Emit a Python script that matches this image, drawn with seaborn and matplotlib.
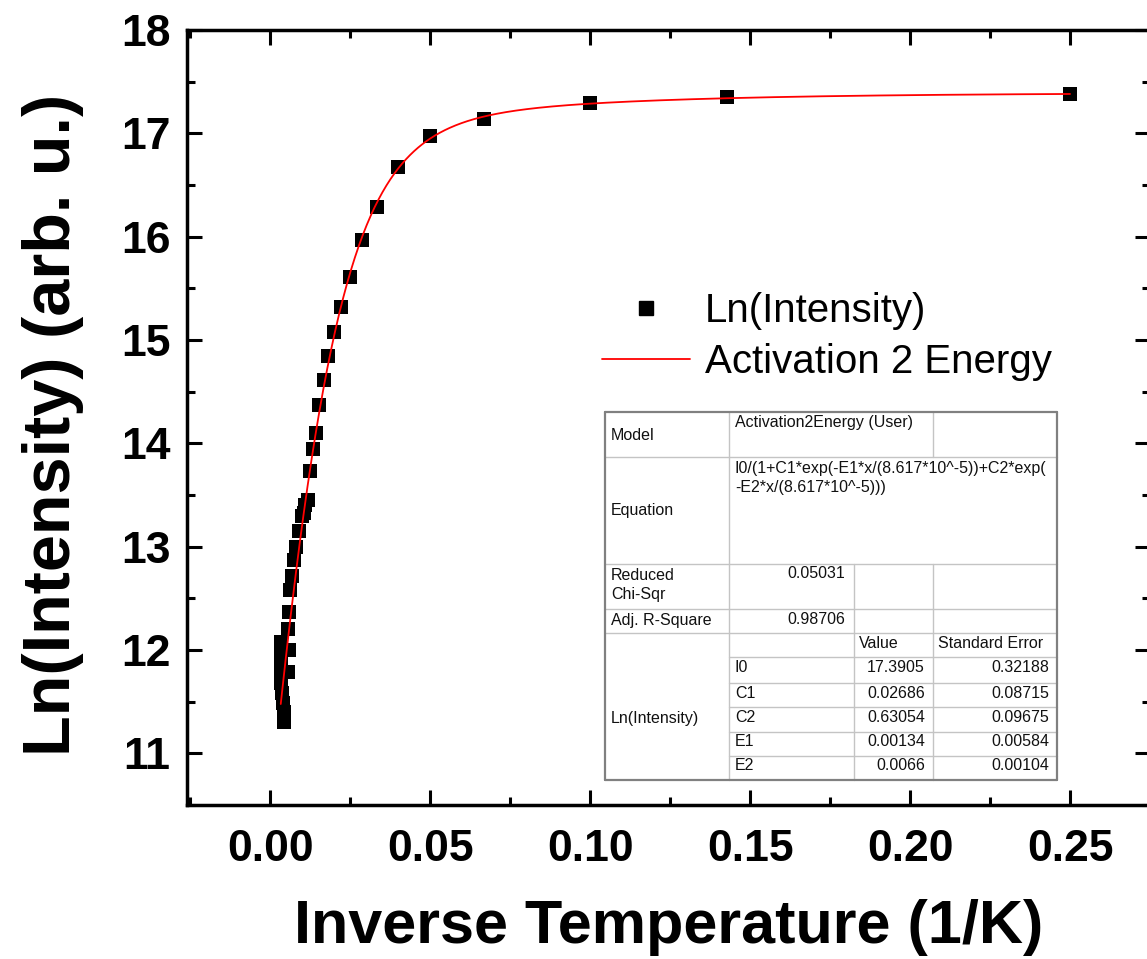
import numpy as np
import pandas as pd
import matplotlib
matplotlib.use("Agg")
import matplotlib.pyplot as plt
import seaborn as sns
from matplotlib.lines import Line2D
from matplotlib.patches import Rectangle
from matplotlib.ticker import MultipleLocator, FormatStrFormatter

# Measured photoluminescence: inverse temperature (1/K) vs ln(intensity)
inv_temp = [0.2500, 0.1429, 0.1000, 0.0667, 0.0500, 0.0400, 0.0333, 0.0286,
            0.0250, 0.0222, 0.0200, 0.0182, 0.0167, 0.0154, 0.0143, 0.0133,
            0.0125, 0.0118, 0.0108, 0.0105, 0.0100, 0.0090, 0.0081, 0.0075,
            0.0068, 0.0063, 0.0058, 0.0056, 0.0058, 0.0056, 0.0035, 0.0033,
            0.0033, 0.0034, 0.0035, 0.0037, 0.0039, 0.0043, 0.0043, 0.0044]
ln_intensity = [17.38, 17.35, 17.29, 17.14, 16.97, 16.67, 16.29, 15.97,
                15.61, 15.32, 15.08, 14.85, 14.61, 14.37, 14.10, 13.95,
                13.73, 13.45, 13.40, 13.33, 13.30, 13.15, 13.00, 12.87,
                12.72, 12.58, 12.37, 12.20, 12.00, 11.79, 12.08, 11.98,
                11.88, 11.78, 11.68, 11.58, 11.49, 11.40, 11.33, 11.30]

# Two-activation-energy fit results
param_names = ["I0", "C1", "C2", "E1", "E2"]
param_values = [17.3905, 0.02686, 0.63054, 0.00134, 0.0066]
param_errors = [0.32188, 0.08715, 0.09675, 0.00584, 0.00104]
param_labels = ["17.3905", "0.02686", "0.63054", "0.00134", "0.0066"]
error_labels = ["0.32188", "0.08715", "0.09675", "0.00584", "0.00104"]
reduced_chi_sqr = "0.05031"
adj_r_square = "0.98706"
k_B = 8.617e-5

x_ticks = [0.00, 0.05, 0.10, 0.15, 0.20, 0.25]
y_ticks = [11, 12, 13, 14, 15, 16, 17, 18]

sns.set_theme(style="ticks")
plt.rcParams["font.family"] = ["Liberation Sans", "DejaVu Sans"]
plt.rcParams["text.color"] = "black"

W, H = 1147, 959
fig = plt.figure(figsize=(W / 100, H / 100), dpi=100)
ax = fig.add_axes([187 / W, (H - 805) / H, 963 / W, 775 / H])

df = pd.DataFrame({"x": inv_temp, "y": ln_intensity})

# Fitted model curve
I0, C1, C2, E1, E2 = param_values
x_fit = np.linspace(min(inv_temp), max(inv_temp), 800)
y_fit = I0 / (1 + C1 * np.exp(-E1 * x_fit / k_B) + C2 * np.exp(-E2 * x_fit / k_B))

sns.scatterplot(data=df, x="x", y="y", marker="s", s=112, color="black",
                linewidth=0, ax=ax, zorder=2, legend=False)
sns.lineplot(x=x_fit, y=y_fit, color="red", lw=1.3, ax=ax, zorder=3,
             legend=False)

ax.set_xlim(-0.026, 0.275)
ax.set_ylim(10.5, 18)
ax.set_xticks(x_ticks)
ax.set_yticks(y_ticks)
ax.xaxis.set_minor_locator(MultipleLocator(0.025))
ax.yaxis.set_minor_locator(MultipleLocator(0.5))
ax.xaxis.set_major_formatter(FormatStrFormatter("%.2f"))
ax.yaxis.set_major_formatter(FormatStrFormatter("%d"))
ax.tick_params(which="both", direction="in", top=True, right=True,
               width=2.2, color="black", labelsize=32, labelcolor="black")
ax.tick_params(which="major", length=10.8)
ax.tick_params(which="minor", length=5.8)
ax.tick_params(axis="x", pad=17)
ax.tick_params(axis="y", pad=12)
for lab in ax.get_xticklabels() + ax.get_yticklabels():
    lab.set_fontweight("bold")
for sp in ax.spines.values():
    sp.set_linewidth(2.5)
    sp.set_color("black")

ax.set_xlabel("Inverse Temperature (1/K)", fontsize=44, fontweight="bold",
              color="black")
ax.set_ylabel("Ln(Intensity) (arb. u.)", fontsize=48, fontweight="bold",
              color="black")
ax.xaxis.set_label_coords(0.5, -0.121)
ax.yaxis.set_label_coords(-0.107, 0.49)

handles = [Line2D([], [], marker="s", ls="none", color="black", ms=10.5),
           Line2D([], [], color="red", lw=1.3)]
leg = ax.legend(handles, ["Ln(Intensity)", "Activation 2 Energy"],
                loc="center left", bbox_to_anchor=(0.431, 0.604), frameon=False,
                fontsize=29, handlelength=2.18, handletextpad=0.37, borderpad=0,
                borderaxespad=0, labelspacing=0.32)
for t in leg.get_texts():
    t.set_color("black")

# Fit summary table (pixel layout helpers)
def fx(x):
    return x / W


def fy(y):
    return 1 - y / H


cols = [605, 729, 854, 933, 1057]
rows = [412, 457, 564, 609, 633, 657, 683, 707, 732, 756, 780]
grid_c = "#c4c4c4"

fig.add_artist(Rectangle((fx(cols[0]), fy(rows[-1])),
                         fx(cols[-1]) - fx(cols[0]), fy(rows[0]) - fy(rows[-1]),
                         transform=fig.transFigure, facecolor="white",
                         edgecolor="none", zorder=5))


def hline(y, x0, x1, c=grid_c, lw=1.0):
    fig.add_artist(Line2D([fx(x0), fx(x1)], [fy(y), fy(y)], color=c, lw=lw,
                          transform=fig.transFigure, zorder=6))


def vline(x, y0, y1, c=grid_c, lw=1.0):
    fig.add_artist(Line2D([fx(x), fx(x)], [fy(y0), fy(y1)], color=c, lw=lw,
                          transform=fig.transFigure, zorder=6))


for r in rows[1:5]:
    hline(r, cols[0], cols[-1])
for r in rows[5:10]:
    hline(r, cols[1], cols[-1])
vline(cols[1], rows[0], rows[-1])
vline(cols[2], rows[2], rows[-1])
vline(cols[3], rows[0], rows[1])
vline(cols[3], rows[2], rows[-1])
# outer border
border = "#808080"
hline(rows[0], cols[0], cols[-1], border, 1.6)
hline(rows[-1], cols[0], cols[-1], border, 1.6)
vline(cols[0], rows[0], rows[-1], border, 1.6)
vline(cols[-1], rows[0], rows[-1], border, 1.6)

tfs = 11.5


def cell_text(x, y, s, ha="left", va="center"):
    fig.text(fx(x), fy(y), s, ha=ha, va=va, fontsize=tfs, color="#111111",
             zorder=7)


cell_text(611, 435, "Model")
cell_text(735, 423, "Activation2Energy (User)")
cell_text(611, 510, "Equation")
cell_text(735, 468, "I0/(1+C1*exp(-E1*x/(8.617*10^-5))+C2*exp(")
cell_text(735, 487, "-E2*x/(8.617*10^-5)))")
cell_text(611, 576, "Reduced")
cell_text(611, 595, "Chi-Sqr")
cell_text(845, 574, reduced_chi_sqr, ha="right")
cell_text(611, 621, "Adj. R-Square")
cell_text(845, 619, adj_r_square, ha="right")
cell_text(859, 644, "Value")
cell_text(938, 644, "Standard Error")
cell_text(611, 719, "Ln(Intensity)")
row_centers = [668, 693, 717, 742, 766]
for yc, name, val, err in zip(row_centers, param_names, param_labels,
                              error_labels):
    cell_text(735, yc, name)
    cell_text(925, yc, val, ha="right")
    cell_text(1049, yc, err, ha="right")

fig.savefig("out.png", dpi=100, facecolor="white")
